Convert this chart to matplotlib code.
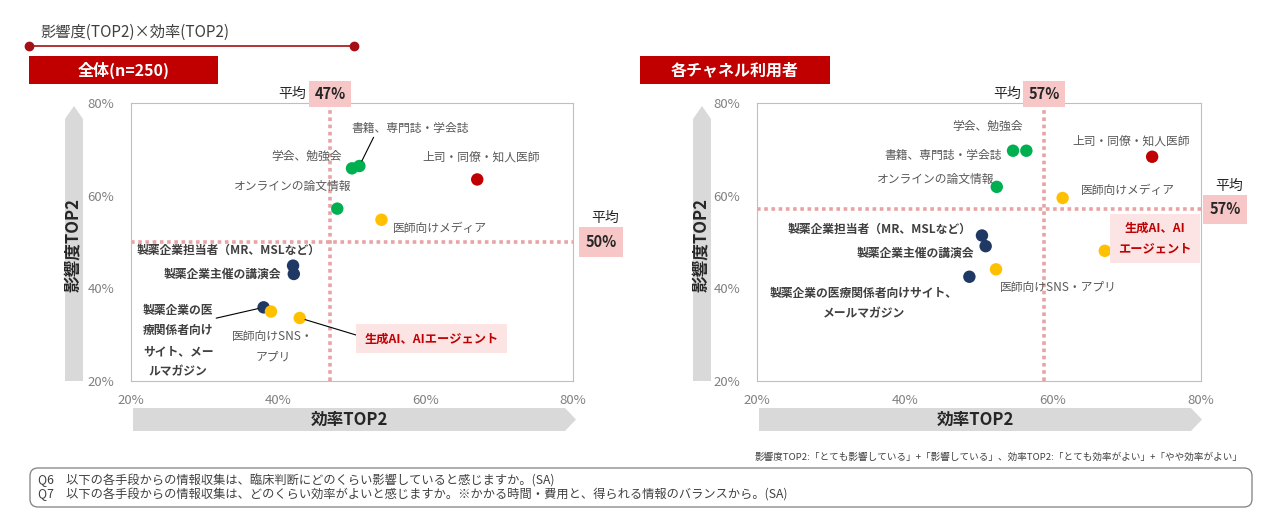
import matplotlib
matplotlib.use("Agg")
import matplotlib.pyplot as plt
from matplotlib.patches import Polygon, Rectangle, FancyBboxPatch
from matplotlib.lines import Line2D
from matplotlib.transforms import blended_transform_factory

plt.rcParams['font.family'] = ['Noto Sans CJK JP', 'DejaVu Sans']

# データ
labels = ['上司・同僚・知人医師', '学会、勉強会', '書籍、専門誌・学会誌', 'オンラインの論文情報',
          '医師向けメディア', '製薬企業担当者（MR、MSLなど）', '製薬企業主催の講演会',
          '製薬企業の医療関係者向けサイト、メールマガジン', '医師向けSNS・アプリ', '生成AI、AIエージェント']
groups = ['red', 'green', 'green', 'green', 'yellow', 'navy', 'navy', 'navy', 'yellow', 'yellow']

eff_all = [67.0, 50.0, 51.0, 48.0, 54.0, 42.0, 42.1, 38.0, 39.0, 42.9]
inf_all = [63.5, 65.9, 66.4, 57.2, 54.8, 44.9, 43.1, 35.9, 35.0, 33.6]
eff_user = [73.4, 56.4, 54.6, 52.4, 61.3, 50.4, 50.9, 48.7, 52.3, 67.0]
inf_user = [68.4, 69.7, 69.7, 61.9, 59.5, 51.4, 49.1, 42.5, 44.1, 48.1]

avg_all = (47, 50)          # 平均線の位置（効率, 影響度）
avg_all_text = ('47%', '50%')
avg_user = (58.8, 57.1)
avg_user_text = ('57%', '57%')

ticks = [20, 40, 60, 80]

colors = {'red': '#C00000', 'green': '#00B050', 'yellow': '#FFC000', 'navy': '#1F3864'}
AVG_LINE = '#E8A3A3'
AVG_BOX = '#F7C6C6'
GRAY_TXT = '#595959'
DARK_TXT = '#404040'

# ラベル配置（データ座標, 改行入りテキスト）
layout_all = [
    ('上司・同僚・知人医師', 67.5, 68.3, None),
    ('学会、勉強会', 43.9, 68.5, None),
    ('書籍、専門誌・学会誌', 57.9, 74.6, (0.2, 0)),
    ('オンラインの論文情報', 41.9, 62.0, None),
    ('医師向けメディア', 61.9, 52.9, None),
    ('製薬企業担当者（MR、MSLなど）', 33.3, 48.2, None),
    ('製薬企業主催の講演会', 32.4, 43.0, None),
    ('製薬企業の医\n療関係者向け\nサイト、メー\nルマガジン', 26.4, 28.6, (1, 0.8)),
    ('医師向けSNS・\nアプリ', 39.3, 27.4, None),
    ('生成AI、AIエージェント', 60.8, 29.1, (0, 0.6)),
]
layout_user = [
    ('上司・同僚・知人医師', 70.5, 71.8, None),
    ('学会、勉強会', 51.2, 75.0, None),
    ('書籍、専門誌・学会誌', 45.1, 68.7, None),
    ('オンラインの論文情報', 44.1, 63.5, None),
    ('医師向けメディア', 70.1, 61.2, None),
    ('製薬企業担当者（MR、MSLなど）', 36.6, 52.7, None),
    ('製薬企業主催の講演会', 41.4, 47.7, None),
    ('製薬企業の医療関係者向けサイト、\nメールマガジン', 34.4, 36.7, None),
    ('医師向けSNS・アプリ', 60.7, 40.1, None),
    ('生成AI、AI\nエージェント', 73.8, 50.8, None),
]

W, H = 1280, 515
fig = plt.figure(figsize=(W / 100, H / 100), dpi=100)
fig.patch.set_facecolor('white')


def P(x, y):
    return (x / 100, (H - y) / 100)


def fig_poly(pts, color):
    fig.add_artist(Polygon([P(*p) for p in pts], closed=True, facecolor=color,
                           edgecolor='none', transform=fig.dpi_scale_trans))


def fig_text(x, y, s, **kw):
    fig.text(*P(x, y), s, transform=fig.dpi_scale_trans, **kw)


def draw_panel(ax, xs, ys, layout, avg, avg_text, side_off):
    ax.set_xlim(20, 80)
    ax.set_ylim(20, 80)
    ax.set_xticks(ticks)
    ax.set_yticks(ticks)
    ax.set_xticklabels([f'{t}%' for t in ticks])
    ax.set_yticklabels([f'{t}%' for t in ticks])
    ax.tick_params(length=0, labelsize=9.5, labelcolor='#808080')
    ax.tick_params(axis='x', pad=9)
    ax.tick_params(axis='y', pad=12)
    for sp in ax.spines.values():
        sp.set_color('#BFBFBF')
        sp.set_linewidth(0.8)

    ax.axvline(avg[0], color=AVG_LINE, lw=2.6, ls=(0, (1, 1)), zorder=1)
    ax.axhline(avg[1], color=AVG_LINE, lw=2.6, ls=(0, (1, 1)), zorder=1, clip_on=False)

    for x, y, g in zip(xs, ys, groups):
        ax.scatter(x, y, s=80, color=colors[g], edgecolors='none', zorder=3)

    for (txt, tx, ty, rel), x, y, g in zip(layout, xs, ys, groups):
        kw = dict(ha='center', va='center', fontsize=8.5, linespacing=1.75, zorder=4)
        if g == 'navy':
            kw.update(color=DARK_TXT, fontweight='bold')
        else:
            kw.update(color=GRAY_TXT)
        if txt.startswith('生成AI'):
            kw.update(color='#C00000', fontweight='bold', fontsize=8.8,
                      bbox=dict(boxstyle='square,pad=0.65', fc='#FCE4E4', ec='none'))
        if rel is not None:
            ax.annotate(txt, xy=(x, y), xytext=(tx, ty),
                        arrowprops=dict(arrowstyle='-', color='black', lw=0.8,
                                        shrinkA=0, shrinkB=4, relpos=rel), **kw)
        else:
            ax.text(tx, ty, txt, **kw)

    tr_top = blended_transform_factory(ax.transData, ax.transAxes)
    ax.text(avg[0], 1.033, avg_text[0], transform=tr_top, ha='center', va='center',
            fontsize=10.5, fontweight='bold', color='#262626', clip_on=False,
            bbox=dict(boxstyle='square,pad=0.35', fc=AVG_BOX, ec='none'))
    ax.annotate('平均', xy=(avg[0], 1.033), xycoords=tr_top, xytext=(-17, 0),
                textcoords='offset points', ha='right', va='center', fontsize=10, color='#262626')

    tr_side = blended_transform_factory(ax.transAxes, ax.transData)
    ax.text(side_off, avg[1], avg_text[1], transform=tr_side, ha='center', va='center',
            fontsize=10.5, fontweight='bold', color='#262626', clip_on=False,
            bbox=dict(boxstyle='square,pad=0.45', fc=AVG_BOX, ec='none'))
    ax.annotate('平均', xy=(side_off, avg[1]), xycoords=tr_side, xytext=(3, 17),
                textcoords='offset points', ha='center', va='center', fontsize=10, color='#262626')


ax1 = fig.add_axes([131 / W, (H - 381) / H, 442 / W, 278 / H])
ax2 = fig.add_axes([757 / W, (H - 381) / H, 444 / W, 278 / H])
draw_panel(ax1, eff_all, inf_all, layout_all, avg_all, avg_all_text, 1.063)
draw_panel(ax2, eff_user, inf_user, layout_user, avg_user, avg_user_text, 1.054)

# 軸の矢印
ARROW = '#D9D9D9'
for x0, x1 in [(133, 576), (759, 1202)]:
    fig_poly([(x0, 408), (x1 - 11, 408), (x1, 419.5), (x1 - 11, 431), (x0, 431)], ARROW)
    fig_text((x0 + x1) / 2 - 5, 420, '効率TOP2', ha='center', va='center',
             fontsize=12, fontweight='bold', color='#262626')
for xl in [65, 693]:
    fig_poly([(xl, 381), (xl + 18, 381), (xl + 18, 119), (xl + 9, 106), (xl, 119)], ARROW)
    fig_text(xl + 9, 245, '影響度TOP2', ha='center', va='center', rotation=90,
             fontsize=12, fontweight='bold', color='#262626')

# ヘッダー
fig_text(40, 32, '影響度(TOP2)×効率(TOP2)', ha='left', va='center', fontsize=11, color='#404040')
fig.add_artist(Line2D([P(29, 46)[0], P(354, 46)[0]], [P(29, 46)[1], P(354, 46)[1]],
                      color='#A50F15', lw=1.2, marker='o', markersize=6,
                      transform=fig.dpi_scale_trans))
for bx0, bx1, t in [(29, 218, '全体(n=250)'), (640, 830, '各チャネル利用者')]:
    fig.add_artist(Rectangle(P(bx0, 84), (bx1 - bx0) / 100, 0.28, facecolor='#C00000',
                             edgecolor='none', transform=fig.dpi_scale_trans))
    fig_text((bx0 + bx1) / 2, 70, t, ha='center', va='center', fontsize=11.5,
             fontweight='bold', color='white')

# 注記
fig_text(1243, 457, '影響度TOP2:「とても影響している」+「影響している」、効率TOP2:「とても効率がよい」+「やや効率がよい」',
         ha='right', va='center', fontsize=6.9, color='#404040')
fig.add_artist(FancyBboxPatch(P(30, 507), 12.22, 0.39, boxstyle='round,pad=0,rounding_size=0.08',
                              facecolor='white', edgecolor='#7F7F7F', lw=0.9,
                              transform=fig.dpi_scale_trans))
fig_text(38, 480, 'Q6　以下の各手段からの情報収集は、臨床判断にどのくらい影響していると感じますか。(SA)',
         ha='left', va='center', fontsize=8.8, color='#404040')
fig_text(38, 494, 'Q7　以下の各手段からの情報収集は、どのくらい効率がよいと感じますか。※かかる時間・費用と、得られる情報のバランスから。(SA)',
         ha='left', va='center', fontsize=8.8, color='#404040')

fig.savefig('out.png', dpi=100, facecolor='white')
